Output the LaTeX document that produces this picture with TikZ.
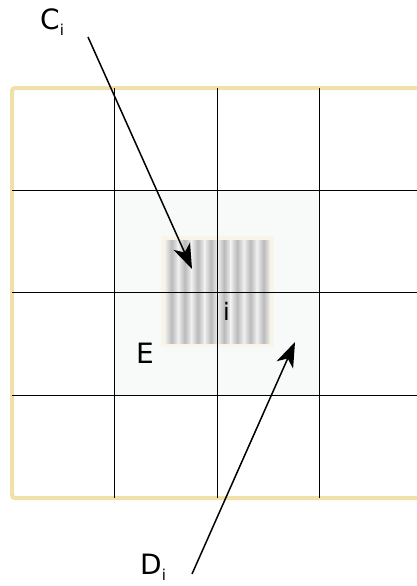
\documentclass[tikz,border=0pt]{standalone}
\usepackage{fontspec}
\setmainfont{DejaVu Sans}
\usetikzlibrary{arrows.meta}
\definecolor{frametan}{RGB}{242,224,170}
\definecolor{cellfill}{RGB}{247,250,248}
\definecolor{glow}{RGB}{250,244,226}
\definecolor{stripegray}{RGB}{186,186,186}
\definecolor{stripelight}{RGB}{240,240,240}
\tikzset{
  gridline/.style={black, line width=1.1pt},
  framestyle/.style={frametan, line width=4pt, rounded corners=3pt},
  pointer/.style={black, line width=1.5pt, -{Stealth[length=25pt,width=18pt,inset=7pt]}},
  bigtext/.style={inner sep=0pt, font=\fontsize{28}{30}\selectfont, anchor=base west},
}
\newcommand{\subi}{\raisebox{-6pt}{\fontsize{15}{15}\selectfont i}}
\begin{document}
\begin{tikzpicture}[x=1pt,y=-1pt]
\useasboundingbox[fill=white] (0,0) rectangle (416,586);
% light region
\fill[cellfill] (114.5,190.5) rectangle (319.5,395.5);
% glowing striped patch
\fill[glow, opacity=0.5] (161,236) rectangle (274,347);
\fill[glow] (163,238) rectangle (272,345);
\fill[stripelight] (165,240) rectangle (270,343);
\foreach \k in {0,...,7}{
  \shade[left color=stripelight, right color=stripelight, middle color=stripegray]
    ({165+13.125*\k},240) rectangle ++(13.125,103);
}
% frame
\draw[framestyle] (420,88) -- (12,88) -- (12,498) -- (420,498);
% grid
\foreach \x in {114.5,217.5,319.5}{ \draw[gridline] (\x,88) -- (\x,498); }
\foreach \y in {190.5,292.5,395.5}{ \draw[gridline] (12,\y) -- (418,\y); }
% labels
\node[bigtext] (ci) at (40,30) {C\subi};
\node[bigtext] (di) at (140,574) {D\subi};
\node[bigtext] (e) at (136,363) {E};
\node[bigtext, font=\fontsize{24}{28}\selectfont] (ilab) at (223,320) {i};
% arrows
\coordinate (cstart) at (88,37);
\coordinate (ctip) at (192,269);
\coordinate (dstart) at (192,574);
\coordinate (dtip) at (295,342);
\draw[pointer] (cstart) -- (ctip);
\draw[pointer] (dstart) -- (dtip);
\end{tikzpicture}
\end{document}
